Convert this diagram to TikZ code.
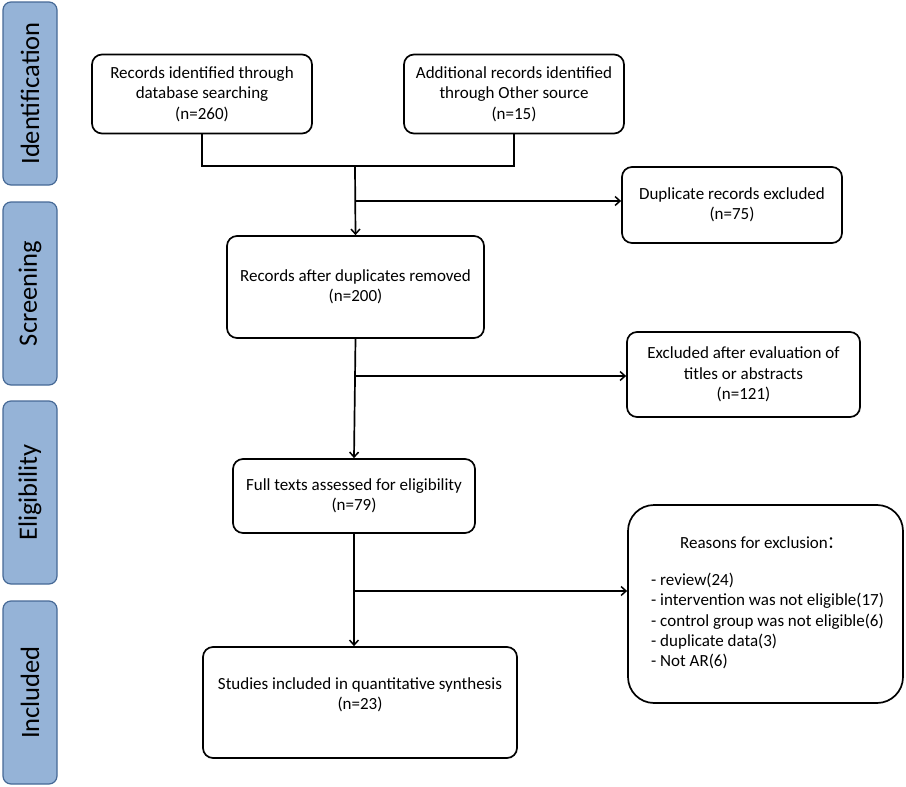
\documentclass[tikz,border=0pt]{standalone}
\usepackage{fontspec}
\setmainfont{Carlito}
\newfontfamily\cjk{Noto Sans CJK SC}
\usetikzlibrary{arrows.meta}
\definecolor{sidefill}{RGB}{149,179,215}
\definecolor{sideedge}{RGB}{70,105,150}
\begin{document}
\begin{tikzpicture}[x=1pt,y=-1pt,
  box/.style={draw=black,line width=1.7pt,rounded corners=10pt,fill=white,align=center,
    font=\fontsize{17}{20.5}\selectfont,inner sep=0pt},
  side/.style={draw=sideedge,line width=1.2pt,fill=sidefill,rounded corners=8pt,
    minimum width=54pt,minimum height=183pt,inner sep=0pt},
  sidelabel/.style={rotate=90,font=\fontsize{26.5}{30}\selectfont},
  conn/.style={line width=1.7pt},
  arr/.style={conn,-{Straight Barb[length=5pt,width=9pt,line width=1.5pt]}}]
\useasboundingbox (0,0) rectangle (906,787);
% side bars
\node[side] (s1) at (30,93.5) {};
\node[sidelabel] (t1) at (s1.center) {Identification};
\node[side] (s2) at (30,293.5) {};
\node[sidelabel] (t2) at (s2.center) {Screening};
\node[side] (s3) at (30,492.5) {};
\node[sidelabel] (t3) at (s3.center) {Eligibility};
\node[side] (s4) at (30,692.5) {};
\node[sidelabel] (t4) at (s4.center) {Included};
% boxes
\node[box,minimum width=220pt,minimum height=79pt] (b1) at (202,94)
  {Records identified through\\database searching\\(n=260)};
\node[box,minimum width=220pt,minimum height=79pt] (b2) at (514,94)
  {Additional records identified\\through Other source\\(n=15)};
\node[box,minimum width=220pt,minimum height=76pt] (dup) at (732,205)
  {Duplicate records excluded\\(n=75)};
\node[box,minimum width=257pt,minimum height=102pt] (b3) at (355.5,287)
  {Records after duplicates removed\\(n=200)};
\node[box,minimum width=233pt,minimum height=85pt] (exc) at (743.5,374.5)
  {Excluded after evaluation of\\titles or abstracts\\(n=121)};
\node[box,minimum width=242pt,minimum height=74pt] (b4) at (354,496)
  {Full texts assessed for eligibility\\(n=79)};
\node[box,minimum width=275pt,minimum height=198pt,rounded corners=26pt] (rea) at (765.5,604) {};
\node[font=\fontsize{17}{20}\selectfont,anchor=center] (reat) at (762,543)
  {Reasons for exclusion{\cjk \kern-1pt：}};
\node[font=\fontsize{17}{20.3}\selectfont,align=left,anchor=north west,inner sep=0pt] (real) at (651,573)
  {- review(24)\\- intervention was not eligible(17)\\- control group was not eligible(6)\\- duplicate data(3)\\- Not AR(6)};
\node[box,minimum width=314pt,minimum height=111pt,text depth=18pt] (b5) at (360,702.5)
  {Studies included in quantitative synthesis\\(n=23)};
% connectors
\coordinate (mj) at (355,166);
\draw[conn] (b1.south) -- (b1.south |- mj) -- (b2.south |- mj) -- (b2.south);
\draw[arr] (mj) -- (b3.north);
\coordinate (c1) at (355,201);
\draw[arr] (c1) -- (dup.west |- c1);
\coordinate (c2) at (b3.south |- 0,376);
\draw[arr] (b3.south) -- (b4.north);
\draw[arr] (c2) -- (exc.west |- c2);
\coordinate (c3) at (b4.south |- 0,591);
\draw[arr] (b4.south) -- (b4.south |- b5.north);
\draw[arr] (c3) -- (rea.west |- c3);
\end{tikzpicture}
\end{document}
